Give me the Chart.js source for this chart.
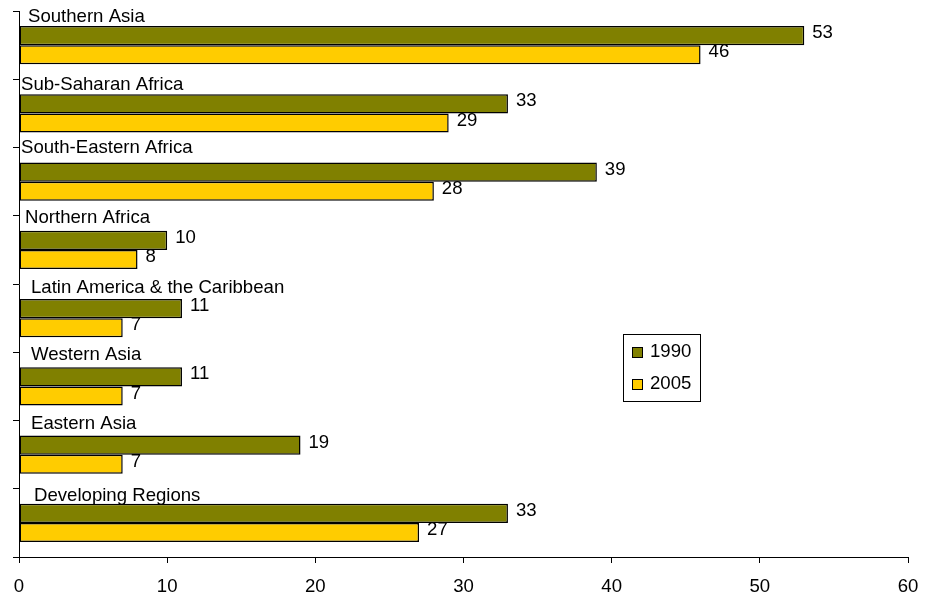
<!DOCTYPE html>
<html>
<head>
<meta charset="utf-8">
<script src="https://cdn.jsdelivr.net/npm/chart.js@4/dist/chart.umd.min.js"></script>
<style>
  html, body { margin: 0; padding: 0; background: #fff; }
  #wrap { width: 928px; height: 597px; }
</style>
</head>
<body>
<div id="wrap"><canvas id="chart"></canvas></div>
<script>
// Data
const regions = [
    'Southern Asia',
    'Sub-Saharan Africa',
    'South-Eastern Africa',
    'Northern Africa',
    'Latin America & the Caribbean',
    'Western Asia',
    'Eastern Asia',
    'Developing Regions'
];
const values1990 = [53, 33, 39, 10, 11, 11, 19, 33];
const values2005 = [46, 29, 28, 8, 7, 7, 7, 27];
const xTicks = [0, 10, 20, 30, 40, 50, 60];

// Hand-placed label nudges from the original (px): [dx from axis, gap above bar]
const labelNudge = [[9, 4], [2, 4], [2, 10], [6, 8], [12, 6], [12, 7], [12, 7], [15, 3]];

const FONT = '"Liberation Sans", Arial, sans-serif';
const FONT_SIZE = 18.6;

// Region names drawn above each pair of bars
const regionLabels = {
    id: 'regionLabels',
    afterDatasetsDraw(chart) {
        const ctx = chart.ctx;
        const meta = chart.getDatasetMeta(0);
        const left = chart.chartArea.left;
        ctx.save();
        ctx.font = FONT_SIZE + 'px ' + FONT;
        ctx.fillStyle = '#000';
        ctx.textAlign = 'left';
        ctx.textBaseline = 'alphabetic';
        meta.data.forEach((bar, i) => {
            const top = bar.y - bar.height / 2;
            const n = labelNudge[i];
            ctx.fillText(regions[i], left + n[0], top - n[1]);
        });
        ctx.restore();
    }
};

// Numbers at the end of each bar
const valueLabels = {
    id: 'valueLabels',
    afterDatasetsDraw(chart) {
        const ctx = chart.ctx;
        ctx.save();
        ctx.font = FONT_SIZE + 'px ' + FONT;
        ctx.fillStyle = '#000';
        ctx.textAlign = 'left';
        ctx.textBaseline = 'middle';
        chart.data.datasets.forEach((ds, d) => {
            chart.getDatasetMeta(d).data.forEach((bar, i) => {
                ctx.fillText(String(ds.data[i]), bar.x + 8, bar.y - 2.5);
            });
        });
        ctx.restore();
    }
};

// Boxed legend sitting inside the plot
const boxLegend = {
    id: 'boxLegend',
    afterDraw(chart) {
        const ctx = chart.ctx;
        const area = chart.chartArea;
        const x = area.right - 285;
        const y = area.top + 323;
        ctx.save();
        ctx.fillStyle = '#fff';
        ctx.fillRect(x, y, 77, 67);
        ctx.strokeStyle = '#000';
        ctx.lineWidth = 1;
        ctx.strokeRect(x + 0.5, y + 0.5, 77, 67);
        ctx.font = FONT_SIZE + 'px ' + FONT;
        ctx.textBaseline = 'middle';
        chart.data.datasets.forEach((ds, d) => {
            const cy = y + 18 + d * 32;
            ctx.fillStyle = ds.backgroundColor;
            ctx.fillRect(x + 9, cy - 5, 11, 11);
            ctx.strokeRect(x + 9.5, cy - 4.5, 10, 10);
            ctx.fillStyle = '#000';
            ctx.fillText(ds.label, x + 27, cy);
        });
        ctx.restore();
    }
};

new Chart(document.getElementById('chart'), {
    type: 'bar',
    data: {
        labels: regions,
        datasets: [
            {
                label: '1990',
                data: values1990,
                backgroundColor: '#808000',
                borderColor: '#000',
                borderWidth: 1.5,
                borderSkipped: false
            },
            {
                label: '2005',
                data: values2005,
                backgroundColor: '#FFCC00',
                borderColor: '#000',
                borderWidth: 1.5,
                borderSkipped: false
            }
        ]
    },
    options: {
        indexAxis: 'y',
        responsive: true,
        maintainAspectRatio: false,
        animation: false,
        categoryPercentage: 0.557,
        barPercentage: 1,
        layout: {
            padding: { left: 13, right: 20, top: 11, bottom: 0 }
        },
        plugins: {
            legend: { display: false },
            tooltip: { enabled: false }
        },
        scales: {
            x: {
                min: 0,
                max: 60,
                afterBuildTicks(scale) {
                    scale.ticks = xTicks.map(v => ({ value: v }));
                },
                afterFit(scale) {
                    scale.height = 40;
                    scale.paddingLeft = 0;
                    scale.paddingRight = 0;
                },
                ticks: {
                    color: '#000',
                    font: { family: FONT, size: FONT_SIZE },
                    padding: 13,
                    maxRotation: 0
                },
                grid: {
                    drawOnChartArea: false,
                    tickLength: 6,
                    color: '#000'
                },
                border: { color: '#000', width: 1 }
            },
            y: {
                ticks: { display: false },
                grid: {
                    drawOnChartArea: false,
                    tickLength: 6,
                    color: '#000'
                },
                border: { color: '#000', width: 1 }
            }
        }
    },
    plugins: [regionLabels, valueLabels, boxLegend]
});
</script>
</body>
</html>
